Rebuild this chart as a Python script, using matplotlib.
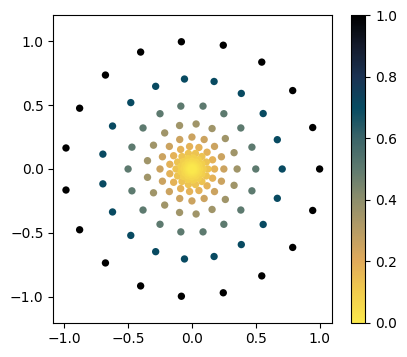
"""Concentric rings of points coloured by their radius."""

import matplotlib

matplotlib.use("Agg")
import matplotlib.pyplot as plt
import numpy as np
from matplotlib.colors import LinearSegmentedColormap


# One entry per ring, outermost first: radius (also the colour value) and
# how many evenly spaced points sit on it, starting at angle zero.
ring_radius = [
    1.0, 0.707, 0.5, 0.354, 0.25, 0.177, 0.125, 0.088, 0.0625, 0.044,
    0.031, 0.022, 0.0156, 0.011, 0.0078, 0.0055, 0.0039, 0.0028, 0.002,
]
ring_points = [19, 19, 18, 17, 16, 15, 14, 13, 12, 11, 10, 9, 8, 7, 6, 5, 4, 3, 2]

# Colour ramp, bottom (0) to top (1).
cmap_colors = [
    "#fbe84c", "#f1cb4d", "#e0aa5b", "#b69c65", "#8d8e6c", "#5e7a6f",
    "#3b6468", "#074b62", "#1a3252", "#141b2c", "#000000",
]
cbar_ticks = [0.0, 0.2, 0.4, 0.6, 0.8, 1.0]
axis_ticks = [-1.0, -0.5, 0.0, 0.5, 1.0]


def ring_coordinates(radii, counts):
    """Return x, y and colour value for every point on every ring."""
    xs, ys, vals = [], [], []
    for radius, count in zip(radii, counts):
        theta = np.arange(count) * 2 * np.pi / count
        xs.append(radius * np.cos(theta))
        ys.append(radius * np.sin(theta))
        vals.append(np.full(count, radius))
    return np.concatenate(xs), np.concatenate(ys), np.concatenate(vals)


cmap = LinearSegmentedColormap.from_list("ring_ramp", cmap_colors)
x, y, c = ring_coordinates(ring_radius, ring_points)

fig = plt.figure(figsize=(4.07, 3.57), dpi=100)
ax = fig.add_axes([53.3 / 407, 34.3 / 357, 279 / 407, 307.4 / 357])
cax = fig.add_axes([350.7 / 407, 34.3 / 357, 14.6 / 407, 307.4 / 357])

points = ax.scatter(x, y, c=c, cmap=cmap, vmin=0, vmax=1, s=28, linewidths=0)
ax.set_aspect("equal", adjustable="datalim")
ax.set_xticks(axis_ticks)
ax.set_yticks(axis_ticks)

cbar = fig.colorbar(points, cax=cax)
cbar.set_ticks(cbar_ticks)

fig.savefig("out.png", dpi=100)
plt.close(fig)
